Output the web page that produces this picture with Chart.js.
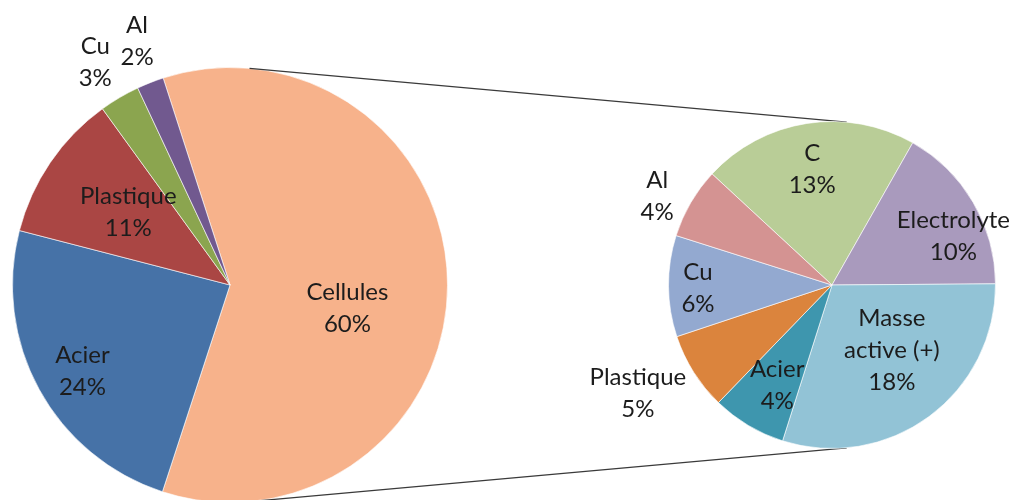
<!DOCTYPE html>
<html lang="fr">
<head>
    <meta charset="UTF-8">
    <title>Composition batterie</title>
    <style>
        body {
            margin: 0;
            padding: 0;
            background-color: #fff;
        }
        .wrap {
            position: relative;
            width: 1017px;
            height: 500px;
            overflow: hidden;
        }
        .wrap canvas {
            position: absolute;
            left: 0;
            top: 0;
        }
    </style>
</head>
<body>
    <div class="wrap">
        <canvas id="mainPie" width="1017" height="510"></canvas>
        <canvas id="cellPie" width="1017" height="510"></canvas>
    </div>

    <script src="https://cdn.jsdelivr.net/npm/chart.js"></script>
    <script>
        // Batterie complète (%)
        const mainLabels = ['Cellules', 'Acier', 'Plastique', 'Cu', 'Al'];
        const mainValues = [60, 24, 11, 3, 2];
        const mainColors = ['#F7B28B', '#4672A7', '#AA4644', '#8BA54F', '#71598F'];

        // Détail des cellules (% de la batterie)
        const cellLabels = ['C', 'Electrolyte', 'Masse active (+)', 'Acier', 'Plastique', 'Cu', 'Al'];
        const cellValues = [12.8, 10, 18, 4.4, 4.6, 6, 4.2];
        const cellColors = ['#B9CD97', '#A99ABD', '#92C3D6', '#3E96AE', '#DB843D', '#93A9D0', '#D49392'];

        const grandTotal = mainValues.reduce((a, b) => a + b, 0);

        // placement des étiquettes : décalage d'angle (deg) et fraction du rayon
        const mainLabelPos = [
            { da: 10.9, rf: 0.55 },
            { da: -1.5, rf: 0.785 },
            { da: 1.3, rf: 0.575 },
            { da: -0.7, rf: 1.196 },
            { da: 0.6, rf: 1.198 }
        ];
        const cellLabelPos = [
            { da: -0.9, rf: 0.72 },
            { da: 8.5, rf: 0.80 },
            { da: -6.3, rf: 0.54 },
            { da: -2.2, rf: 0.70 },
            { da: 3.0, rf: 1.36 },
            { da: -0.9, rf: 0.82 },
            { da: -3.2, rf: 1.20 }
        ];

        const labelFont = '24px Lato, "Open Sans", sans-serif';
        const lineGap = 32;

        // coupe les noms trop longs sur deux lignes
        function wrapName(ctx, name) {
            if (ctx.measureText(name).width <= 125 || name.indexOf(' ') < 0) return [name];
            const i = name.indexOf(' ');
            return [name.slice(0, i), name.slice(i + 1)];
        }

        function sliceLabels(placement) {
            return {
                id: 'sliceLabels',
                afterDatasetsDraw(chart) {
                    const ctx = chart.ctx;
                    const meta = chart.getDatasetMeta(0);
                    const values = chart.data.datasets[0].data;
                    ctx.save();
                    ctx.font = labelFont;
                    ctx.fillStyle = '#1c1c1c';
                    ctx.textAlign = 'center';
                    ctx.textBaseline = 'middle';
                    meta.data.forEach((arc, i) => {
                        const p = arc.getProps(['x', 'y', 'startAngle', 'endAngle', 'outerRadius'], true);
                        const a = (p.startAngle + p.endAngle) / 2 + placement[i].da * Math.PI / 180;
                        const r = p.outerRadius * placement[i].rf;
                        const cx = p.x + Math.cos(a) * r;
                        const cy = p.y + Math.sin(a) * r;
                        const lines = wrapName(ctx, chart.data.labels[i]);
                        lines.push(Math.round(values[i] / grandTotal * 100) + '%');
                        lines.forEach((t, k) => {
                            ctx.fillText(t, cx, cy + (k - (lines.length - 1) / 2) * lineGap);
                        });
                    });
                    ctx.restore();
                }
            };
        }

        function pieOptions(rotation, padding) {
            return {
                responsive: false,
                animation: false,
                rotation: rotation,
                layout: { padding: padding },
                plugins: {
                    legend: { display: false },
                    tooltip: { enabled: false }
                }
            };
        }

        const mainChart = new Chart(document.getElementById('mainPie').getContext('2d'), {
            type: 'pie',
            data: {
                labels: mainLabels,
                datasets: [{
                    data: mainValues,
                    backgroundColor: mainColors,
                    borderColor: 'rgba(255, 255, 255, 0.6)',
                    borderWidth: 1
                }]
            },
            options: pieOptions(-17.9, { left: 12, top: 67, right: 569, bottom: 7 }),
            plugins: [sliceLabels(mainLabelPos)]
        });

        // lignes de liaison : tangentes extérieures aux deux disques
        const connectors = {
            id: 'connectors',
            beforeDatasetsDraw(chart) {
                const a = mainChart.getDatasetMeta(0).data[0];
                const b = chart.getDatasetMeta(0).data[0];
                const dx = b.x - a.x, dy = b.y - a.y;
                const d = Math.hypot(dx, dy);
                const phi = Math.atan2(dy, dx);
                const beta = Math.acos((a.outerRadius - b.outerRadius) / d);
                const ctx = chart.ctx;
                ctx.save();
                ctx.strokeStyle = '#3a3a3a';
                ctx.lineWidth = 1.4;
                [phi + beta, phi - beta].forEach(t => {
                    const nx = Math.cos(t), ny = Math.sin(t);
                    ctx.beginPath();
                    ctx.moveTo(a.x + nx * a.outerRadius, a.y + ny * a.outerRadius);
                    ctx.lineTo(b.x + nx * b.outerRadius, b.y + ny * b.outerRadius);
                    ctx.stroke();
                });
                ctx.restore();
            }
        };

        const cellChart = new Chart(document.getElementById('cellPie').getContext('2d'), {
            type: 'pie',
            data: {
                labels: cellLabels,
                datasets: [{
                    data: cellValues,
                    backgroundColor: cellColors,
                    borderColor: 'rgba(255, 255, 255, 0.6)',
                    borderWidth: 1
                }]
            },
            options: pieOptions(-47.2, { left: 668, top: 121, right: 21, bottom: 61 }),
            plugins: [connectors, sliceLabels(cellLabelPos)]
        });
    </script>
</body>
</html>
